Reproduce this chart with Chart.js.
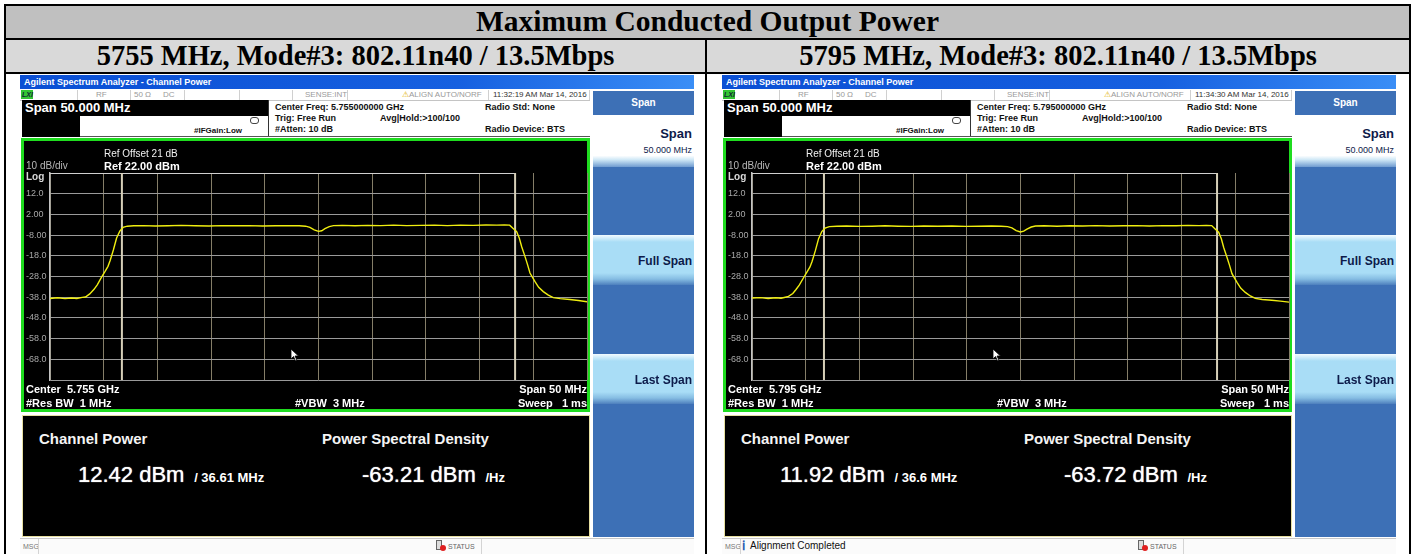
<!DOCTYPE html>
<html>
<head>
<meta charset="utf-8">
<script src="https://cdn.jsdelivr.net/npm/chart.js@4.4.1/dist/chart.umd.min.js"></script>
<style>
html, body { margin: 0; padding: 0; background: #fff; width: 1415px; height: 554px; overflow: hidden; }
.a { position: absolute; white-space: nowrap; }
.sa { font-family: "Liberation Sans", Arial, sans-serif; }
.tnr { font-family: "Liberation Serif", "Times New Roman", serif; font-weight: bold; color: #000; text-align: center; }
.bk { background: #000; }
.st { font-size: 8px; color: #9a9a9a; top: 90px; line-height: 10px; }
.inf { font-size: 9px; font-weight: bold; color: #111; line-height: 10px; }
.gr { color: #fff; font-weight: bold; font-size: 11px; line-height: 12px; z-index: 3; }
.sk { text-align: right; color: #0d1b4a; font-weight: bold; z-index: 3; }
.big { font-size: 22px; color: #fff; line-height: 26px; text-shadow: 0 0 1px #fff; }
</style>
</head>
<body>
<div id="root"></div>
<script>
// datos (offset de frecuencia en MHz respecto al centro)
const yTicks = [22, 12, 2, -8, -18, -28, -38, -48, -58, -68, -78];
const xMin = -25;
const xMax = 25;

const freqA = [-25, -24.3, -23.6, -23, -22.5, -22, -21.7, -21.3, -20.9, -20.6, -20.2, -19.9, -19.6, -19.4, -19.1, -18.8, -18.5, -18.2,
    -17.8, -17.2, -16.3, -15.2, -14, -12.8, -11.5, -10.2, -9, -7.8, -6.5, -5.2, -4, -2.8, -1.8, -1.2, -0.8, -0.4, 0, 0.3, 0.6, 1, 1.4,
    2.2, 3.4, 4.6, 5.8, 7, 8.2, 9.5, 10.8, 12, 13.2, 14.4, 15.6, 16.6, 17.3, 17.8, 18.1, 18.45, 18.7, 18.92, 19.23, 19.45, 19.69,
    20.16, 20.5, 20.93, 21.4, 21.86, 22.5, 23.4, 24.2, 25];
const traceA = [-38.6, -38.3, -38.7, -38.4, -38.6, -38.1, -37.9, -36.4, -34.2, -32.0, -28.3, -25.8, -23.1, -20.3, -15.2, -9.4, -6.1, -4.3,
    -3.7, -3.5, -3.4, -3.6, -3.5, -3.3, -3.5, -3.6, -3.4, -3.5, -3.4, -3.6, -3.5, -3.4, -3.5, -3.7, -4.3, -5.5, -6.2, -5.9, -4.9, -3.9, -3.4,
    -3.3, -3.5, -3.3, -3.4, -3.2, -3.4, -3.3, -3.2, -3.4, -3.2, -3.3, -3.1, -3.2, -3.1, -3.2, -4.7, -6.3, -9.5, -13.6, -18.4, -22.0, -26.3,
    -30.5, -33.2, -35.3, -37.0, -38.2, -38.7, -39.1, -39.6, -40.2];

const freqB = [-25, -24.2, -23.5, -22.8, -22.3, -21.9, -21.6, -21.2, -20.9, -20.6, -20.2, -19.9, -19.6, -19.4, -19.1, -18.8, -18.5, -18.2,
    -17.8, -17.1, -16.2, -15, -13.8, -12.6, -11.4, -10.2, -9, -7.7, -6.4, -5.1, -3.9, -2.7, -1.8, -1.2, -0.8, -0.4, 0, 0.3, 0.6, 1, 1.4,
    2.2, 3.4, 4.6, 5.8, 7, 8.3, 9.6, 10.8, 12, 13.3, 14.5, 15.6, 16.6, 17.3, 17.8, 18.1, 18.45, 18.7, 18.92, 19.23, 19.45, 19.69,
    20.16, 20.5, 20.93, 21.4, 21.86, 22.5, 23.4, 24.2, 25];
const traceB = [-38.4, -38.2, -38.6, -38.3, -38.5, -38.0, -37.6, -36.2, -34.3, -32.2, -28.6, -26.0, -23.4, -20.6, -15.5, -9.7, -6.3, -4.6,
    -3.9, -3.7, -3.6, -3.8, -3.7, -3.5, -3.7, -3.8, -3.6, -3.7, -3.6, -3.8, -3.7, -3.6, -3.7, -3.9, -4.5, -5.8, -6.5, -6.1, -5.1, -4.1, -3.6,
    -3.5, -3.7, -3.5, -3.6, -3.4, -3.6, -3.5, -3.4, -3.6, -3.4, -3.5, -3.3, -3.4, -3.3, -3.4, -4.9, -6.6, -9.8, -14.0, -18.8, -22.4, -26.6,
    -30.8, -33.6, -35.7, -37.4, -38.6, -39.1, -39.5, -39.9, -40.4];

const panelTitles = ['5755 MHz, Mode#3: 802.11n40 / 13.5Mbps', '5795 MHz, Mode#3: 802.11n40 / 13.5Mbps'];
const centerFreqs = ['5.755000000 GHz', '5.795000000 GHz'];
const centerLabels = ['5.755 GHz', '5.795 GHz'];
const timeStamps = ['11:32:19 AM Mar 14, 2016', '11:34:30 AM Mar 14, 2016'];
const channelPower = ['12.42', '11.92'];
const channelBwText = ['36.61 MHz', '36.6 MHz'];
const channelBw = [36.61, 36.6];
const psdValues = ['-63.21', '-63.72'];
const messages = ['', 'Alignment Completed'];

function tabla() {
    return `
    <div class="a" style="left:4px;top:4px;width:1407px;height:2px;background:#000"></div>
    <div class="a" style="left:4px;top:6px;width:1407px;height:32px;background:#c0c0c0"></div>
    <div class="a" style="left:4px;top:38px;width:1407px;height:2px;background:#000"></div>
    <div class="a" style="left:4px;top:40px;width:1407px;height:32px;background:#d9d9d9"></div>
    <div class="a" style="left:4px;top:72px;width:1407px;height:2px;background:#000"></div>
    <div class="a" style="left:4px;top:4px;width:2px;height:560px;background:#000"></div>
    <div class="a" style="left:705px;top:40px;width:2px;height:520px;background:#000"></div>
    <div class="a" style="left:1409px;top:4px;width:2px;height:560px;background:#000"></div>
    <div class="a tnr" style="left:6px;top:4px;width:1403px;font-size:29.5px;line-height:35px">Maximum Conducted Output Power</div>
    <div class="a tnr" style="left:6px;top:38px;width:699px;font-size:28.5px;line-height:35px">${panelTitles[0]}</div>
    <div class="a tnr" style="left:707px;top:38px;width:702px;font-size:28.5px;line-height:35px">${panelTitles[1]}</div>`;
}

function panel(i, dx) {
    const X = v => (v + dx) + 'px';
    const msg = messages[i]
        ? `<div class="a sa" style="left:${X(40)};top:540px;font-size:13px;color:#2a5db0;font-weight:bold;line-height:12px">&#x2139;</div>
           <div class="a sa" style="left:${X(48)};top:540px;font-size:10px;color:#111;line-height:12px">${messages[i]}</div>`
        : '';
    return `
    <div class="a" style="left:${X(20)};top:75px;width:674px;height:14px;background:linear-gradient(to right,#0a4fd4,#1660e0 65%,#3a8ef6)"></div>
    <div class="a sa" style="left:${X(24)};top:76px;font-size:9px;font-weight:bold;color:#fff;line-height:12px">Agilent Spectrum Analyzer - Channel Power</div>

    <div class="a" style="left:${X(20)};top:89px;width:570px;height:11px;background:#fff;border-bottom:1px solid #c4c4c4"></div>
    <div class="a" style="left:${X(21)};top:90px;width:12px;height:9px;background:#33c433"></div>
    <div class="a sa" style="left:${X(22)};top:90px;font-size:7px;font-weight:bold;font-style:italic;color:#123;line-height:9px">LXI</div>
    ${[77, 130, 184, 239, 292, 347, 488, 589].map(v => `<div class="a" style="left:${X(v)};top:90px;width:1px;height:10px;background:#d0d0d0"></div>`).join('')}
    <div class="a sa st" style="left:${X(96)}">RF</div>
    <div class="a sa st" style="left:${X(134)}">50 &Omega;</div>
    <div class="a sa st" style="left:${X(163)}">DC</div>
    <div class="a sa st" style="left:${X(305)}">SENSE:INT</div>
    <div class="a sa st" style="left:${X(402)}"><span style="color:#e0b000">&#9888;</span>ALIGN AUTO/NORF</div>
    <div class="a sa st" style="left:${X(493)};color:#333">${timeStamps[i]}</div>

    <div class="a bk" style="left:${X(22)};top:100px;width:246px;height:16px"></div>
    <div class="a sa" style="left:${X(25)};top:100px;font-size:13px;font-weight:bold;color:#fff;line-height:16px">Span 50.000 MHz</div>
    <div class="a bk" style="left:${X(22)};top:116px;width:58px;height:21px"></div>
    <div class="a" style="left:${X(268)};top:100px;width:1px;height:37px;background:#333"></div>
    <div class="a" style="left:${X(80)};top:136px;width:510px;height:1px;background:#555"></div>
    <div class="a" style="left:${X(250)};top:117px;width:7px;height:5px;border:1px solid #444;border-radius:3px"></div>
    <div class="a sa inf" style="left:${X(275)};top:102px">Center Freq: ${centerFreqs[i]}</div>
    <div class="a sa inf" style="left:${X(485)};top:102px">Radio Std: None</div>
    <div class="a sa inf" style="left:${X(275)};top:113px">Trig: Free Run</div>
    <div class="a sa inf" style="left:${X(380)};top:113px">Avg|Hold:&gt;100/100</div>
    <div class="a sa inf" style="left:${X(275)};top:124px">#Atten: 10 dB</div>
    <div class="a sa inf" style="left:${X(194)};top:126px;font-size:8px">#IFGain:Low</div>
    <div class="a sa inf" style="left:${X(485)};top:124px">Radio Device: BTS</div>

    <div class="a" style="left:${X(21)};top:138px;width:569px;height:274px;box-sizing:border-box;border:3px solid #1fdc1f;background:#000"></div>
    <canvas id="chart${i}" class="a" style="left:${X(24)};top:141px;z-index:2" width="565" height="268"></canvas>
    <div class="a sa" style="left:${X(104)};top:148px;font-size:10px;color:#f0f0f0;line-height:12px;z-index:3">Ref Offset 21 dB</div>
    <div class="a sa gr" style="left:${X(104)};top:160px">Ref 22.00 dBm</div>
    <div class="a sa" style="left:${X(26)};top:160px;font-size:10px;color:#b8b8b8;line-height:12px;z-index:3">10 dB/div</div>
    <div class="a sa" style="left:${X(26)};top:171px;font-size:10px;font-weight:bold;color:#d8d8d8;line-height:12px;z-index:3">Log</div>
    <div class="a sa gr" style="left:${X(26)};top:383px">Center&nbsp; ${centerLabels[i]}</div>
    <div class="a sa gr" style="left:${X(26)};top:397px">#Res BW&nbsp; 1 MHz</div>
    <div class="a sa gr" style="left:${X(295)};top:397px">#VBW&nbsp; 3 MHz</div>
    <div class="a sa gr" style="left:${X(480)};top:383px;width:107px;text-align:right">Span 50 MHz</div>
    <div class="a sa gr" style="left:${X(480)};top:397px;width:107px;text-align:right">Sweep&nbsp;&nbsp; 1 ms</div>
    <svg class="a" style="left:${X(290)};top:348px;z-index:3" width="10" height="14"><polygon points="1,1 1,11 3.5,8.5 5.5,13 7,12.3 5,8 8.5,8" fill="#fff" stroke="#000" stroke-width="0.8"/></svg>

    <div class="a" style="left:${X(22)};top:415px;width:568px;height:122px;box-sizing:border-box;border:1px solid #e6dfa0;background:#000"></div>
    <div class="a sa" style="left:${X(39)};top:430px;font-size:15px;font-weight:bold;color:#f4f4f4;line-height:18px">Channel Power</div>
    <div class="a sa big" style="left:${X(78)};top:462px">${channelPower[i]} dBm <span style="font-size:13px;font-weight:bold;text-shadow:none">&nbsp;/ ${channelBwText[i]}</span></div>
    <div class="a sa" style="left:${X(322)};top:430px;font-size:15px;font-weight:bold;color:#f4f4f4;line-height:18px">Power Spectral Density</div>
    <div class="a sa big" style="left:${X(362)};top:462px">${psdValues[i]} dBm <span style="font-size:13px;font-weight:bold;text-shadow:none">&nbsp;/Hz</span></div>

    <div class="a" style="left:${X(593)};top:91px;width:101px;height:446px;background:#3d70b6"></div>
    <div class="a sa" style="left:${X(593)};top:97px;width:101px;text-align:center;font-size:10px;font-weight:bold;color:#fff;line-height:12px">Span</div>
    <div class="a" style="left:${X(593)};top:115px;width:101px;height:52px;background:linear-gradient(#fff 0%,#fff 78%,#cfe8f6 86%,#6f9bd0 100%)"></div>
    <div class="a sa sk" style="left:${X(593)};top:126px;width:99px;font-size:13px;line-height:15px">Span</div>
    <div class="a sa sk" style="left:${X(593)};top:145px;width:99px;font-size:9px;font-weight:normal;line-height:11px">50.000 MHz</div>
    <div class="a" style="left:${X(593)};top:235px;width:101px;height:50px;background:linear-gradient(#f2fbff 0%,#a9ddf6 14%,#a9ddf6 76%,#86bde3 88%,#4d7fbd 100%)"></div>
    <div class="a sa sk" style="left:${X(593)};top:254px;width:99px;font-size:12px;line-height:14px">Full Span</div>
    <div class="a" style="left:${X(593)};top:354px;width:101px;height:50px;background:linear-gradient(#f2fbff 0%,#a9ddf6 14%,#a9ddf6 76%,#86bde3 88%,#4d7fbd 100%)"></div>
    <div class="a sa sk" style="left:${X(593)};top:373px;width:99px;font-size:12px;line-height:14px">Last Span</div>

    <div class="a" style="left:${X(20)};top:538px;width:674px;height:16px;background:#fbfbfb;border-top:1px solid #c8c8c8"></div>
    <div class="a sa" style="left:${X(23)};top:542px;font-size:7px;color:#777;line-height:9px">MSG</div>
    <div class="a" style="left:${X(38)};top:539px;width:1px;height:15px;background:#d4d4d4"></div>
    ${msg}
    <div class="a" style="left:${X(436)};top:540px;width:4px;height:8px;border:1px solid #666;background:#ddd"></div>
    <div class="a" style="left:${X(440)};top:545px;width:6px;height:6px;border-radius:4px;background:#e02020"></div>
    <div class="a sa" style="left:${X(448)};top:542px;font-size:7px;color:#666;line-height:9px">STATUS</div>
    <div class="a" style="left:${X(481)};top:539px;width:1px;height:15px;background:#d4d4d4"></div>`;
}

function fmtTick(v) {
    if (v === yTicks[0] || v === yTicks[yTicks.length - 1]) return '';
    return Math.abs(v) >= 10 ? v.toFixed(1) : v.toFixed(2);
}

function dibujarEspectro(i, freqs, trace) {
    const half = channelBw[i] / 2;
    const top = yTicks[0];
    const bottom = yTicks[yTicks.length - 1];
    const line = (data, color, width) => ({
        data, borderColor: color, borderWidth: width, pointRadius: 0, tension: 0, fill: false
    });

    new Chart(document.getElementById('chart' + i), {
        type: 'line',
        data: {
            datasets: [
                line(freqs.map((f, k) => ({ x: f, y: trace[k] })), '#f0ee10', 1.4),
                line([{ x: -half, y: bottom }, { x: -half, y: top }], '#d6cfb8', 2),
                line([{ x: half, y: bottom }, { x: half, y: top }], '#d6cfb8', 2),
                line([{ x: xMin, y: top }, { x: half, y: top }], '#d0d0d0', 2)
            ]
        },
        options: {
            responsive: false,
            animation: false,
            events: [],
            layout: { padding: { left: 2, right: 2, top: 32, bottom: 29 } },
            plugins: { legend: { display: false }, tooltip: { enabled: false } },
            scales: {
                x: {
                    type: 'linear', min: xMin, max: xMax,
                    ticks: { display: false, stepSize: 5 },
                    grid: { color: '#857e68', lineWidth: 1, drawTicks: false },
                    border: { display: false },
                    afterFit: s => { s.height = 0; }
                },
                y: {
                    min: bottom, max: top,
                    afterBuildTicks: s => { s.ticks = yTicks.map(v => ({ value: v })); },
                    ticks: {
                        callback: fmtTick, color: '#a8a8a8', padding: 0, crossAlign: 'far',
                        font: { family: 'Liberation Sans', size: 9 }
                    },
                    grid: {
                        color: c => c.tick.value === top ? 'rgba(0,0,0,0)' : '#9a9a9a',
                        lineWidth: 1, drawTicks: false
                    },
                    border: { display: true, color: '#c4c4c4', width: 1.5 },
                    afterFit: s => { s.width = 24; }
                }
            }
        }
    });
}

document.getElementById('root').innerHTML = tabla() + panel(0, 0) + panel(1, 702);
dibujarEspectro(0, freqA, traceA);
dibujarEspectro(1, freqB, traceB);
</script>
</body>
</html>
